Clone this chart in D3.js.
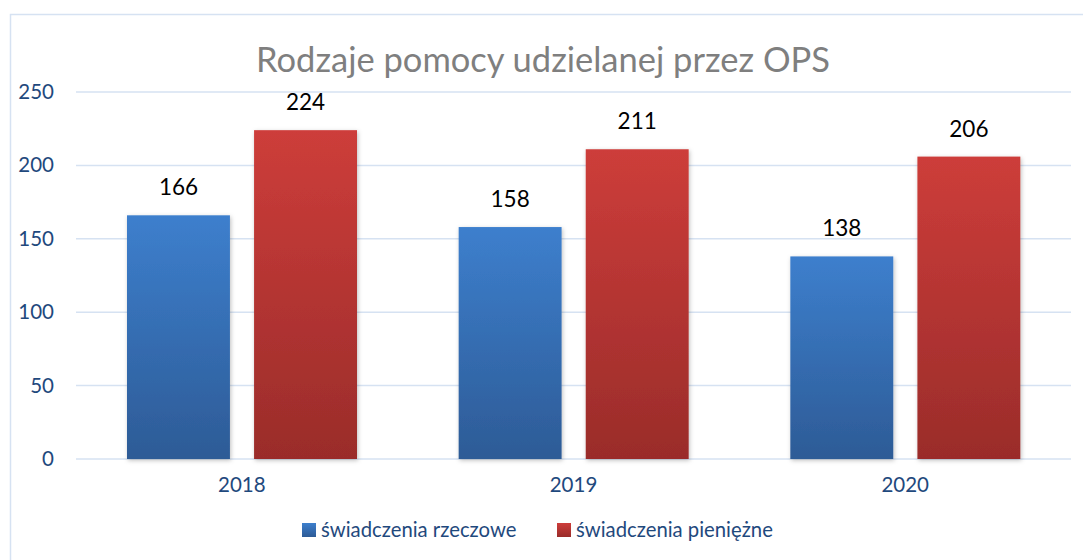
<!DOCTYPE html>
<html>
<head>
    <meta charset="utf-8">
    <script src="https://d3js.org/d3.v7.min.js"></script>
    <style>
        body { margin: 0; background: white; }
        text { font-family: Lato, "Open Sans", sans-serif; }
        .grid line { stroke: #d6e2f2; stroke-width: 1.5px; }
        .axis text { fill: #1f497d; font-size: 20.5px; }
    </style>
</head>
<body>
    <script>
        // data
        const years = ["2018", "2019", "2020"];
        const seriesNames = ["świadczenia rzeczowe", "świadczenia pieniężne"];
        const rzeczowe = [166, 158, 138];
        const pieniezne = [224, 211, 206];
        const yTicks = [0, 50, 100, 150, 200, 250];

        const width = 1083, height = 560;
        const plot = { left: 76, right: 1071, top: 92, bottom: 459 };

        const svg = d3.select("body").append("svg")
            .attr("width", width).attr("height", height);

        // gradients + shadow
        const defs = svg.append("defs");
        const grads = [
            { id: "gBlue", top: "#3d7fcd", bottom: "#2d5b96" },
            { id: "gRed", top: "#cd3d3a", bottom: "#9a2c2a" }
        ];
        grads.forEach(function (g) {
            const lg = defs.append("linearGradient").attr("id", g.id)
                .attr("x1", 0).attr("y1", 0).attr("x2", 0).attr("y2", 1);
            lg.append("stop").attr("offset", "0%").attr("stop-color", g.top);
            lg.append("stop").attr("offset", "100%").attr("stop-color", g.bottom);
        });
        const f = defs.append("filter").attr("id", "shadow")
            .attr("x", "-10%").attr("y", "-10%").attr("width", "120%").attr("height", "120%");
        f.append("feDropShadow").attr("dx", 1).attr("dy", 1.5)
            .attr("stdDeviation", 2).attr("flood-color", "#000").attr("flood-opacity", 0.25);

        // chart border (top + left visible)
        svg.append("path")
            .attr("d", "M10.5," + height + " V14.5 H" + width)
            .attr("fill", "none").attr("stroke", "#d6e2f2").attr("stroke-width", 1.5);

        const x = d3.scaleBand().domain(years).range([plot.left, plot.right]);
        const x1 = d3.scaleBand().domain(seriesNames).range([51, 51 + 230]).paddingInner(0.19);
        const y = d3.scaleLinear().domain([0, 250]).range([plot.bottom, plot.top]);

        // gridlines
        svg.append("g").attr("class", "grid")
            .selectAll("line").data(yTicks).enter().append("line")
            .attr("x1", plot.left).attr("x2", plot.right)
            .attr("y1", function (d) { return y(d); })
            .attr("y2", function (d) { return y(d); });

        // y axis labels
        const yAxis = d3.axisLeft(y).tickValues(yTicks).tickSize(0).tickPadding(0);
        const gy = svg.append("g").attr("class", "axis")
            .attr("transform", "translate(54,0)").call(yAxis);
        gy.select(".domain").remove();

        // x axis labels
        const xAxis = d3.axisBottom(x).tickSize(0).tickPadding(18);
        const gx = svg.append("g").attr("class", "axis")
            .attr("transform", "translate(0," + plot.bottom + ")").call(xAxis);
        gx.select(".domain").remove();

        const series = [
            { name: seriesNames[0], values: rzeczowe, fill: "url(#gBlue)" },
            { name: seriesNames[1], values: pieniezne, fill: "url(#gRed)" }
        ];

        series.forEach(function (s) {
            const g = svg.append("g");
            g.selectAll("rect").data(years).enter().append("rect")
                .attr("x", function (d) { return x(d) + x1(s.name); })
                .attr("y", function (d, i) { return y(s.values[i]); })
                .attr("width", x1.bandwidth())
                .attr("height", function (d, i) { return y(0) - y(s.values[i]); })
                .attr("fill", s.fill)
                .attr("filter", "url(#shadow)");
            g.selectAll("text").data(years).enter().append("text")
                .attr("x", function (d) { return x(d) + x1(s.name) + x1.bandwidth() / 2; })
                .attr("y", function (d, i) { return y(s.values[i]) - 20; })
                .attr("text-anchor", "middle")
                .attr("font-size", 22.5).attr("fill", "#000")
                .text(function (d, i) { return s.values[i]; });
        });

        // title
        svg.append("text")
            .attr("x", 543).attr("y", 72)
            .attr("text-anchor", "middle")
            .attr("font-size", 34.5).attr("fill", "#7f7f7f")
            .text("Rodzaje pomocy udzielanej przez OPS");

        // legend
        const legendX = [302, 557];
        series.forEach(function (s, i) {
            svg.append("rect")
                .attr("x", legendX[i]).attr("y", 523)
                .attr("width", 14).attr("height", 14)
                .attr("fill", s.fill);
            svg.append("text")
                .attr("x", legendX[i] + 19).attr("y", 537)
                .attr("font-size", 20.3).attr("fill", "#1f497d")
                .text(s.name);
        });
    </script>
</body>
</html>
